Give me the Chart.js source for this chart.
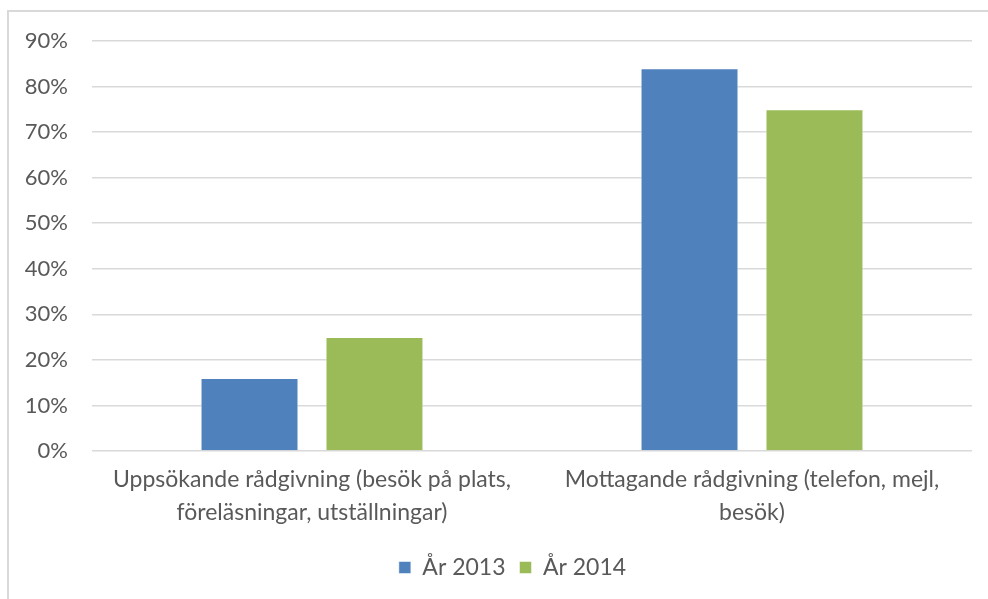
<!DOCTYPE html>
<html lang="sv">
<head>
    <meta charset="UTF-8">
    <title>Rådgivning 2013–2014</title>
    <script src="https://cdn.jsdelivr.net/npm/chart.js@4.4.1/dist/chart.umd.min.js"></script>
    <style>
        body {
            margin: 0;
            background: #fff;
            overflow: hidden;
        }
        .frame {
            position: absolute;
            left: 7px;
            top: 10px;
            width: 990px;
            height: 600px;
            border-left: 2px solid #d9d9d9;
            border-top: 2px solid #d9d9d9;
        }
        #chart {
            position: absolute;
            left: 0;
            top: 0;
        }
    </style>
</head>
<body>
    <div class="frame">
        <canvas id="chart" width="979" height="587"></canvas>
    </div>

    <script>
        const categories = [
            ['Uppsökande rådgivning (besök på plats,', 'föreläsningar, utställningar)'],
            ['Mottagande rådgivning (telefon, mejl,', 'besök)']
        ];
        const seriesNames = ['År 2013', 'År 2014'];
        const values2013 = [16, 84];
        const values2014 = [25, 75];
        const yTicks = [0, 10, 20, 30, 40, 50, 60, 70, 80, 90];

        const textColor = '#595959';
        const fontFamily = 'Lato, "Open Sans", sans-serif';

        // the original legend sits a bit right of the canvas centre
        const shiftLegend = {
            id: 'shiftLegend',
            afterLayout(chart) {
                chart.legend.left += 22;
                chart.legend.right += 22;
            }
        };

        const ctx = document.getElementById('chart').getContext('2d');
        new Chart(ctx, {
            type: 'bar',
            data: {
                labels: categories,
                datasets: [
                    {
                        label: seriesNames[0],
                        data: values2013,
                        backgroundColor: '#4f81bd',
                        borderColor: 'rgba(255,255,255,0.5)',
                        borderWidth: 1
                    },
                    {
                        label: seriesNames[1],
                        data: values2014,
                        backgroundColor: '#9bbb59',
                        borderColor: 'rgba(255,255,255,0.5)',
                        borderWidth: 1
                    }
                ]
            },
            options: {
                responsive: false,
                animation: false,
                categoryPercentage: 0.568,
                barPercentage: 0.784,
                layout: {
                    padding: { left: 0, right: 16, top: 29, bottom: 10 }
                },
                plugins: {
                    legend: {
                        position: 'bottom',
                        labels: {
                            boxWidth: 12,
                            boxHeight: 12,
                            padding: 14,
                            color: textColor,
                            font: { family: fontFamily, size: 23 }
                        }
                    },
                    tooltip: { enabled: false }
                },
                scales: {
                    x: {
                        grid: { display: false, drawTicks: false },
                        border: { display: false },
                        ticks: {
                            color: textColor,
                            padding: 12,
                            maxRotation: 0,
                            autoSkip: false,
                            font: { family: fontFamily, size: 23, lineHeight: 1.43 }
                        },
                        afterFit: s => { s.height = 91; }
                    },
                    y: {
                        min: 0,
                        max: 90,
                        afterBuildTicks: s => { s.ticks = yTicks.map(v => ({ value: v })); },
                        grid: { color: '#d9d9d9', lineWidth: 1.5, drawTicks: false },
                        border: { display: false },
                        ticks: {
                            color: textColor,
                            padding: 24,
                            font: { family: fontFamily, size: 22 },
                            callback: v => v + '%'
                        },
                        afterFit: s => {
                            s.width = 83;
                            s.paddingTop = 0;
                            s.paddingBottom = 0;
                        }
                    }
                }
            },
            plugins: [shiftLegend]
        });
    </script>
</body>
</html>
